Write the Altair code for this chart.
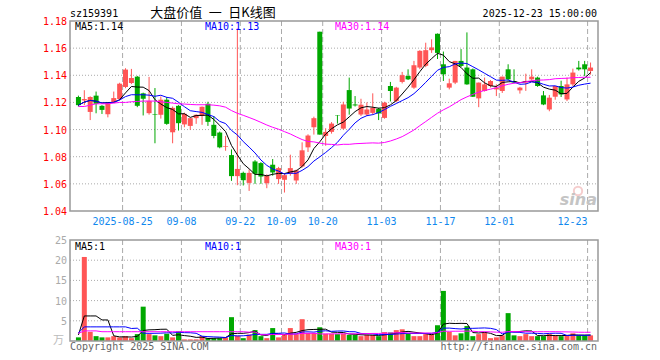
import altair as alt
import pandas as pd

# ---------------- data ----------------
bdays = pd.bdate_range("2025-08-14", "2025-12-23")
holidays = pd.to_datetime(["2025-10-01", "2025-10-02", "2025-10-03",
                           "2025-10-06", "2025-10-07", "2025-10-08"])
dates = [d.strftime("%Y-%m-%d") for d in bdays if d not in holidays]

opens = [1.124, 1.1215, 1.113, 1.125, 1.1175, 1.1113, 1.120, 1.1225, 1.1314, 1.1343,
         1.139, 1.1267, 1.1121, 1.1112, 1.1109, 1.122, 1.098, 1.1175, 1.1038, 1.1027,
         1.1084, 1.1101, 1.119, 1.1035, 1.0978, 1.0874, 1.0812, 1.0657, 1.0681, 1.0607,
         1.0765, 1.0753, 1.0605, 1.0741, 1.0635, 1.063, 1.0674, 1.0625, 1.0728, 1.0869,
         1.1017, 1.1721, 1.0953, 1.0983, 1.1103, 1.1007, 1.1291, 1.1185, 1.1111, 1.1111,
         1.1123, 1.1153, 1.1086, 1.1321, 1.121, 1.1351, 1.1395, 1.1309, 1.1457, 1.147,
         1.1585, 1.1706, 1.1481, 1.1309, 1.1346, 1.1506, 1.1457, 1.1444, 1.123, 1.1284,
         1.1321, 1.1296, 1.1284, 1.1444, 1.1358, 1.1289, 1.1346, 1.137, 1.1383, 1.1252,
         1.1148, 1.1242, 1.1321, 1.1222, 1.1333, 1.1457, 1.1481, 1.1432]
closes = [1.118, 1.1225, 1.124, 1.119, 1.1145, 1.1195, 1.1232, 1.1338, 1.1442, 1.138,
          1.1175, 1.1227, 1.1212, 1.1108, 1.122, 1.1042, 1.116, 1.1047, 1.1116, 1.1084,
          1.1109, 1.1168, 1.1057, 1.0953, 1.0869, 1.0879, 1.0657, 1.071, 1.0627, 1.0681,
          1.0674, 1.0654, 1.0659, 1.0684, 1.0716, 1.0664, 1.0716, 1.0699, 1.0847, 1.0956,
          1.1084, 1.0963, 1.0983, 1.1044, 1.1100, 1.1185, 1.1155, 1.1178, 1.1183, 1.1148,
          1.116, 1.1119, 1.1198, 1.1284, 1.1309, 1.1401, 1.137, 1.1474, 1.158, 1.1585,
          1.1605, 1.1565, 1.1407, 1.1341, 1.1506, 1.1469, 1.1333, 1.1242, 1.1346, 1.1333,
          1.1358, 1.1309, 1.139, 1.137, 1.1346, 1.1309, 1.1358, 1.139, 1.1321, 1.1185,
          1.1235, 1.1321, 1.1259, 1.1333, 1.142, 1.1444, 1.1444, 1.1457]
highs = [1.125, 1.129, 1.1245, 1.128, 1.118, 1.120, 1.128, 1.1345, 1.1452, 1.1447,
         1.1395, 1.1272, 1.1388, 1.1306, 1.1244, 1.124, 1.117, 1.118, 1.1125, 1.1085,
         1.1112, 1.117, 1.1205, 1.110, 1.0985, 1.0953, 1.0854, 1.1746, 1.069, 1.0706,
         1.0775, 1.076, 1.067, 1.0783, 1.0725, 1.0675, 1.0815, 1.0705, 1.0906, 1.0965,
         1.1095, 1.1721, 1.101, 1.1055, 1.1106, 1.1205, 1.1383, 1.1247, 1.1227, 1.120,
         1.1267, 1.116, 1.1205, 1.1351, 1.1315, 1.1425, 1.1444, 1.1506, 1.1585, 1.164,
         1.1665, 1.1708, 1.1575, 1.1375, 1.1506, 1.1593, 1.1716, 1.145, 1.1346, 1.1383,
         1.1365, 1.1333, 1.139, 1.1481, 1.1444, 1.1315, 1.1412, 1.1444, 1.139, 1.1284,
         1.1255, 1.1321, 1.136, 1.1383, 1.1449, 1.1506, 1.1506, 1.1494]
lows = [1.117, 1.118, 1.107, 1.112, 1.1115, 1.109, 1.1195, 1.1215, 1.1305, 1.1335,
        1.1165, 1.1104, 1.111, 1.0899, 1.1081, 1.1035, 1.0899, 1.0993, 1.1017, 1.0998,
        1.1042, 1.1035, 1.1027, 1.0936, 1.0862, 1.0844, 1.0622, 1.059, 1.0588, 1.0548,
        1.060, 1.060, 1.0568, 1.066, 1.060, 1.0536, 1.066, 1.060, 1.072, 1.0835,
        1.0963, 1.0963, 1.0881, 1.097, 1.1044, 1.100, 1.111, 1.117, 1.110, 1.110,
        1.111, 1.107, 1.108, 1.1207, 1.120, 1.134, 1.1365, 1.130, 1.1445, 1.146,
        1.1565, 1.152, 1.1358, 1.1296, 1.1335, 1.146, 1.133, 1.124, 1.1165, 1.128,
        1.131, 1.1247, 1.127, 1.136, 1.134, 1.1265, 1.1285, 1.136, 1.1315, 1.118,
        1.1135, 1.122, 1.124, 1.121, 1.132, 1.1435, 1.1395, 1.1405]
volumes = [0.9, 20.8, 2.25, 1.2, 0.9, 0.9, 1.2, 0.9, 1.2, 0.7,
           1.7, 8.5, 1.7, 1.4, 1.2, 1.8, 0.9, 2.4, 0.4, 0.4,
           0.4, 1.2, 0.7, 0.7, 0.7, 0.9, 5.9, 1.3, 0.7, 1.6,
           2.7, 1.2, 0.7, 3.2, 0.9, 1.7, 3.2, 1.7, 5.4, 2.0,
           2.0, 3.4, 1.8, 1.8, 1.7, 1.8, 1.5, 1.5, 1.2, 1.5,
           1.5, 1.2, 2.2, 2.1, 2.7, 2.9, 2.0, 1.2, 1.2, 1.7,
           1.7, 3.9, 12.4, 2.25, 1.4, 1.9, 3.7, 1.2, 1.7, 2.2,
           0.7, 0.9, 1.4, 6.9, 1.4, 1.2, 1.7, 1.2, 1.2, 1.2,
           1.7, 1.4, 1.2, 1.4, 1.9, 1.4, 1.4, 1.4]
# moving averages before their windows are full (earlier history not shown)
ma30_start = [1.117, 1.117, 1.118, 1.119, 1.119, 1.119, 1.1195, 1.120, 1.120, 1.1205,
              1.1207, 1.121, 1.121, 1.121, 1.1205, 1.120, 1.1195, 1.119, 1.1188, 1.1185,
              1.1183, 1.1183, 1.1183, 1.118, 1.1175, 1.1165, 1.114, 1.112, 1.1105]
vma5_start = [1.5, 6.2, 6.2, 6.2]
vma10_start = [2.0, 3.5, 3.5, 3.5, 3.5, 3.5, 3.5, 3.5, 3.5]
vma30_start = [1.9, 2.5, 2.5, 2.5] + [2.3] * 25

price_ticks = [1.04, 1.06, 1.08, 1.10, 1.12, 1.14, 1.16, 1.18]
vol_ticks = [5, 10, 15, 20, 25]
tick_dates = ["2025-08-25", "2025-09-08", "2025-09-22", "2025-10-09", "2025-10-20",
              "2025-11-03", "2025-11-17", "2025-12-01", "2025-12-23"]
tick_labels = ["2025-08-25", "09-08", "09-22", "10-09", "10-20",
               "11-03", "11-17", "12-01", "12-23"]
title_code = "sz159391"
title_name = "大盘价值 一 日K线图"
timestamp = "2025-12-23 15:00:00"
ma_labels = ["MA5:1.14", "MA10:1.13", "MA30:1.14"]
vol_ma_labels = ["MA5:1", "MA10:1", "MA30:1"]
vol_unit = "万"
footer_left = "Copyright 2025 SINA.COM"
footer_right = "http://finance.sina.com.cn"

# ---------------- styling ----------------
W, H = 528, 320
PH = 190              # price panel height
VT, VB = 219, 320     # volume panel top / bottom
RED, GREEN = "#ff5555", "#00a800"
BLUE, MAG = "#0000ff", "#ff00ff"
GRID = "#aaaaaa"
FRAME = "#999999"
MONO = "DejaVu Sans Mono"
CJK = "Noto Sans CJK SC"

n = len(dates)
pad = lambda lst: lst + [None] * (n - len(lst))
df = pd.DataFrame({
    "i": list(range(n)), "date": dates, "open": opens, "high": highs,
    "low": lows, "close": closes, "vol": volumes,
    "p5": pad([]), "p10": pad([]), "p30": pad(ma30_start),
    "w5": pad(vma5_start), "w10": pad(vma10_start), "w30": pad(vma30_start),
})
df["dir"] = ["up" if c >= o else "down" for o, c in zip(opens, closes)]

XS = alt.Scale(domain=[-7 / 12, n - 7 / 12], nice=False, zero=False)
PY = alt.Scale(domain=[1.04, 1.18], range=[PH, 0], nice=False, zero=False)
VY = alt.Scale(domain=[0, 25], range=[VB, VT], nice=False, zero=False)
CS = alt.Scale(domain=["up", "down"], range=[RED, GREEN])
x = alt.X("i:Q", scale=XS, axis=None)
color = alt.Color("dir:N", scale=CS, legend=None)

base = alt.Chart(df)
one = alt.Chart(pd.DataFrame({"k": [0]}))


def label(txt, px, py, col="black", align="left", size=10, font=MONO, **kw):
    return alt.Chart(pd.DataFrame({"t": [txt]})).mark_text(
        align=align, baseline="alphabetic", color=col, fontSize=size, font=font, **kw
    ).encode(x=alt.value(px), y=alt.value(py), text="t:N")


layers = []

# horizontal grids
pgrid = alt.Chart(pd.DataFrame({"p": price_ticks[1:-1]})).mark_rule(
    color=GRID, strokeDash=[1, 2], strokeWidth=1
).encode(y=alt.Y("p:Q", scale=PY, axis=None), x=alt.value(0), x2=alt.value(W))
vgrid_h = alt.Chart(pd.DataFrame({"v": vol_ticks[:-1]})).mark_rule(
    color=GRID, strokeDash=[1, 2], strokeWidth=1
).encode(y=alt.Y("v:Q", scale=VY, axis=None), x=alt.value(0), x2=alt.value(W))
layers += [pgrid, vgrid_h]

# vertical date grids
ticks = pd.DataFrame({"i": [dates.index(d) for d in tick_dates], "lab": tick_labels})
tick_base = alt.Chart(ticks).transform_calculate(pos="min(datum.i + 0.5, 86.5)")
for y0, y1 in [(0, PH), (VT, VB)]:
    layers.append(tick_base.mark_rule(color=GRID, strokeDash=[5, 3], strokeWidth=1).encode(
        x=alt.X("pos:Q", scale=XS, axis=None), y=alt.value(y0), y2=alt.value(y1)))
layers.append(tick_base.transform_filter("datum.i < 87").mark_text(
    align="center", baseline="alphabetic", color="#1188ee", fontSize=10, font=MONO
).encode(x=alt.X("pos:Q", scale=XS, axis=None), y=alt.value(204), text="lab:N"))
layers.append(tick_base.transform_filter("datum.i >= 87").mark_text(
    align="right", baseline="alphabetic", color="#1188ee", fontSize=10, font=MONO
).encode(x=alt.X("pos:Q", scale=XS, axis=None), y=alt.value(204), text="lab:N"))

# axis labels
layers.append(alt.Chart(pd.DataFrame({"p": price_ticks})).mark_text(
    align="right", baseline="middle", color="#ff0000", fontSize=10, font=MONO, dy=1
).encode(y=alt.Y("p:Q", scale=PY, axis=None), x=alt.value(-3), text=alt.Text("p:Q", format=".2f")))
layers.append(alt.Chart(pd.DataFrame({"v": vol_ticks})).mark_text(
    align="right", baseline="middle", color="#aaaaaa", fontSize=10, font=MONO, dy=1
).encode(y=alt.Y("v:Q", scale=VY, axis=None), x=alt.value(-3), text="v:Q"))

# watermark
layers.append(one.mark_point(shape="circle", size=70, color="#f2b8b8", strokeWidth=2, filled=False)
              .encode(x=alt.value(508), y=alt.value(170)))
layers.append(label("sina", 527, 184, col="#c4c4c4", align="right", size=16,
                    font="DejaVu Sans", fontStyle="italic", fontWeight="bold"))

# volume bars
layers.append(base.mark_bar(size=5).encode(
    x=x, y=alt.Y("vol:Q", scale=VY, axis=None), y2=alt.datum(0), color=color))

# candles
layers.append(base.mark_rule(strokeWidth=1).encode(
    x=x, y=alt.Y("low:Q", scale=PY, axis=None), y2="high:Q", color=color))
layers.append(base.mark_bar(size=5).encode(
    x=x, y=alt.Y("open:Q", scale=PY, axis=None), y2="close:Q", color=color))

# price moving averages
for w, col, wf in [(5, "black", "p5"), (10, BLUE, "p10"), (30, MAG, "p30")]:
    layers.append(base.transform_window(
        m="mean(close)", frame=[-(w - 1), 0], sort=[alt.SortField("i")]
    ).transform_calculate(
        ma=f"isValid(datum.{wf}) ? datum.{wf} : datum.m"
    ).mark_line(color=col, strokeWidth=1).encode(
        x=x, y=alt.Y("ma:Q", scale=PY, axis=None)))

# volume moving averages
for w, col, wf in [(5, "black", "w5"), (10, BLUE, "w10"), (30, MAG, "w30")]:
    layers.append(base.transform_window(
        m="mean(vol)", frame=[-(w - 1), 0], sort=[alt.SortField("i")]
    ).transform_calculate(
        ma=f"isValid(datum.{wf}) ? datum.{wf} : datum.m"
    ).mark_line(color=col, strokeWidth=1).encode(
        x=x, y=alt.Y("ma:Q", scale=VY, axis=None)))

# frames
for y0, y1 in [(0, PH), (VT, VB)]:
    layers.append(one.mark_rect(fill=None, stroke=FRAME, strokeWidth=1.5).encode(
        x=alt.value(0), x2=alt.value(W), y=alt.value(y0), y2=alt.value(y1)))

# texts
layers += [
    label(title_code, 0, -4),
    label(title_name.replace(" ", "\u2002"), 143, -4.5, align="center", size=13, font=CJK),
    label(timestamp, 527, -4, align="right"),
    label(ma_labels[0], 5, 8.5),
    label(ma_labels[1], 135, 8.5, col=BLUE),
    label(ma_labels[2], 265, 8.5, col=MAG),
    label(vol_ma_labels[0], 5, 228.5),
    label(vol_ma_labels[1], 135, 228.5, col=BLUE),
    label(vol_ma_labels[2], 265, 228.5, col=MAG),
    label(vol_unit, -6, 323, col="#bbbbbb", align="right", size=11, font=CJK),
    label(footer_left, 0, 329, col="#666666"),
    label(footer_right, 527, 329, col="#666666", align="right"),
]

chart = alt.layer(*layers).properties(
    width=W, height=H,
    padding={"left": 70, "top": 21, "right": 62, "bottom": 19},
    autosize=alt.AutoSizeParams(type="none"),
).resolve_scale(y="independent").configure_view(stroke=None)

chart.save("out.html", embed_options={"renderer": "svg", "actions": False})
